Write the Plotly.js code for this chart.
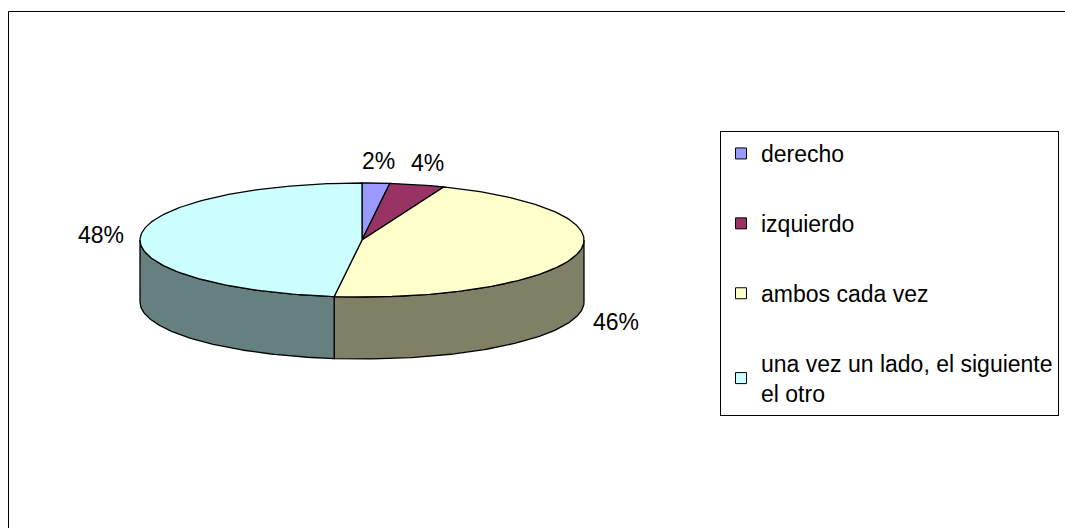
<!DOCTYPE html>
<html>
<head>
<meta charset="utf-8">
<script src="https://cdn.plot.ly/plotly-3.0.1.min.js"></script>
<style>
  html, body { margin: 0; padding: 0; background: #fff; }
  #chart { width: 1065px; height: 528px; }
</style>
</head>
<body>
<div id="chart"></div>
<script>
// ---- data ----
const categories = ['derecho', 'izquierdo', 'ambos cada vez', 'una vez un lado, el siguiente<br>el otro'];
const values = [2, 4, 46, 48];
const topColors = ['#9999FF', '#993366', '#FFFFCC', '#CCFFFF'];
const sideColors = ['#4D4D80', '#4D1A33', '#808066', '#668080'];

// ---- 3D pie geometry (pixel-space axes) ----
const W = 1065, H = 528;
const CX = 362, CY = 240, RX = 222, RY = 57, DEPTH = 62;
const total = values.reduce((a, b) => a + b, 0);
const rad = d => d * Math.PI / 180;
function pt(deg, dy) {
  return [CX + RX * Math.sin(rad(deg)), CY - RY * Math.cos(rad(deg)) + (dy || 0)];
}
function arc(a0, a1, dy) {
  const n = Math.max(2, Math.ceil(Math.abs(a1 - a0)));
  const out = [];
  for (let i = 0; i <= n; i++) out.push(pt(a0 + (a1 - a0) * i / n, dy));
  return out;
}

const angles = [];
let acc = 0;
values.forEach(v => {
  const a0 = acc / total * 360;
  acc += v;
  const a1 = acc / total * 360;
  angles.push([a0, a1]);
});

const traces = [];
// side walls (front half: 90..270 deg)
angles.forEach(([a0, a1], i) => {
  const s = Math.max(a0, 90), e = Math.min(a1, 270);
  if (e <= s) return;
  const pts = arc(s, e, 0).concat(arc(e, s, DEPTH));
  pts.push(pts[0]);
  traces.push({
    type: 'scatter', mode: 'lines', fill: 'toself',
    x: pts.map(p => p[0]), y: pts.map(p => p[1]),
    fillcolor: sideColors[i], line: { color: '#000', width: 1.3 },
    hoverinfo: 'skip', showlegend: false
  });
});
// top faces
angles.forEach(([a0, a1], i) => {
  const pts = [[CX, CY]].concat(arc(a0, a1, 0));
  pts.push([CX, CY]);
  traces.push({
    type: 'scatter', mode: 'lines', fill: 'toself',
    x: pts.map(p => p[0]), y: pts.map(p => p[1]),
    fillcolor: topColors[i], line: { color: '#000', width: 1.3 },
    hoverinfo: 'skip', showlegend: false
  });
});
// legend entries
categories.forEach((c, i) => {
  traces.push({
    type: 'scatter', mode: 'markers', x: [null], y: [null],
    name: c, legendgroup: 'g' + i,
    marker: { symbol: 'square', size: 11, color: topColors[i], line: { color: '#000', width: 1 } },
    hoverinfo: 'skip'
  });
});

// percentage labels
const annotations = angles.map(([a0, a1], i) => {
  const m = rad((a0 + a1) / 2);
  const s = Math.sin(m), c = Math.cos(m);
  return {
    x: CX + (RX + 40) * s,
    y: CY - (RY + 22) * c + (c < 0 ? DEPTH : 0),
    xref: 'x', yref: 'y', showarrow: false,
    text: Math.round(values[i] / total * 100) + '%',
    xanchor: 'center', yanchor: 'middle',
    font: { family: 'Liberation Sans, Arial, sans-serif', size: 23, color: '#000' }
  };
});

const layout = {
  width: W, height: H,
  margin: { l: 0, r: 0, t: 0, b: 0, pad: 0, autoexpand: false },
  paper_bgcolor: '#fff', plot_bgcolor: '#fff',
  xaxis: { range: [0, W], visible: false, fixedrange: true },
  yaxis: { range: [H, 0], visible: false, fixedrange: true },
  showlegend: true,
  legend: {
    x: 720 / W, xanchor: 'left', y: 1 - 131 / H, yanchor: 'top',
    bordercolor: '#000', borderwidth: 1, bgcolor: '#fff',
    font: { family: 'Liberation Sans, Arial, sans-serif', size: 23, color: '#000' },
    traceorder: 'grouped', tracegroupgap: 37, itemwidth: 30
  },
  annotations: annotations,
  shapes: [{
    type: 'rect', xref: 'x', yref: 'y', x0: 8.5, y0: 11.5, x1: W + 20, y1: H + 20,
    line: { color: '#000', width: 1 }, fillcolor: 'rgba(0,0,0,0)', layer: 'below'
  }]
};

Plotly.newPlot('chart', traces, layout, { staticPlot: true, displayModeBar: false });
</script>
</body>
</html>
